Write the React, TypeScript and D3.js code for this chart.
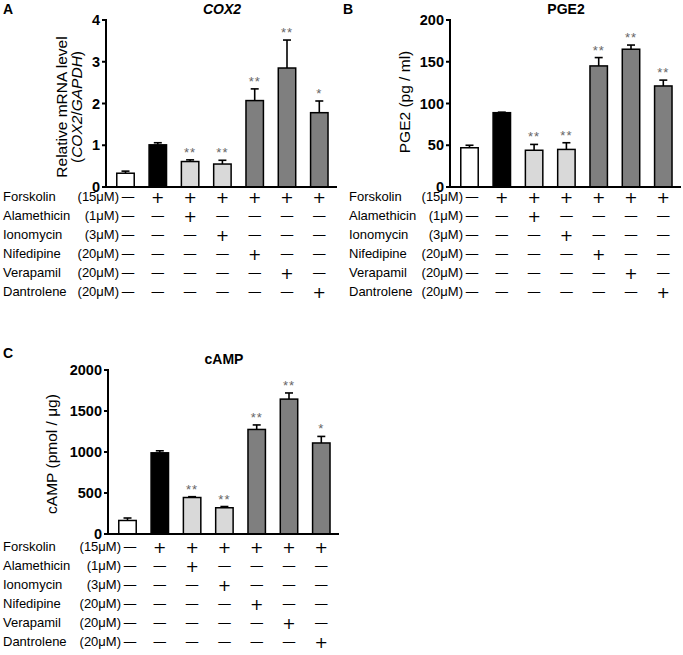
import React from "react";
import * as d3 from "d3";

// ---------- data ----------
const groups = ["Control", "Forskolin", "Forskolin+Alamethicin", "Forskolin+Ionomycin", "Forskolin+Nifedipine", "Forskolin+Verapamil", "Forskolin+Dantrolene"];

const cox2Mean = [0.33, 1.01, 0.61, 0.55, 2.07, 2.85, 1.78];
const cox2Err = [0.05, 0.05, 0.04, 0.09, 0.28, 0.67, 0.28];
const cox2Sig = ["", "", "**", "**", "**", "**", "*"];
const cox2Ticks = [0, 1, 2, 3, 4];

const pge2Mean = [47, 89, 44, 45, 145, 165, 121];
const pge2Err = [3, 0.6, 7, 8, 10, 5, 7];
const pge2Sig = ["", "", "**", "**", "**", "**", "**"];
const pge2Ticks = [0, 50, 100, 150, 200];

const campMean = [165, 990, 445, 320, 1275, 1645, 1110];
const campErr = [30, 25, 10, 15, 55, 75, 80];
const campSig = ["", "", "**", "**", "**", "**", "*"];
const campTicks = [0, 500, 1000, 1500, 2000];

const treatmentNames = ["Forskolin", "Alamethicin", "Ionomycin", "Nifedipine", "Verapamil", "Dantrolene"];
const treatmentConcs = ["(15μM)", "(1μM)", "(3μM)", "(20μM)", "(20μM)", "(20μM)"];
const treatmentSigns = [
  [0, 1, 1, 1, 1, 1, 1],
  [0, 0, 1, 0, 0, 0, 0],
  [0, 0, 0, 1, 0, 0, 0],
  [0, 0, 0, 0, 1, 0, 0],
  [0, 0, 0, 0, 0, 1, 0],
  [0, 0, 0, 0, 0, 0, 1],
];

// ---------- styles ----------
const barFills = ["#ffffff", "#000000", "#d9d9d9", "#d9d9d9", "#7f7f7f", "#7f7f7f", "#7f7f7f"];
const FONT = "'Liberation Sans', Arial, Helvetica, sans-serif";

type PanelProps = {
  letter: string;
  letterX: number;
  letterY: number;
  title: React.ReactNode;
  axisX: number;
  yTop: number;
  yBottom: number;
  yMax: number;
  ticks: number[];
  means: number[];
  errs: number[];
  sigs: string[];
  ylabel: React.ReactNode;
  tableNameX: number;
  tableY0: number;
};

function Panel(p: PanelProps) {
  const axisLen = 231;
  const x = d3
    .scaleBand<string>()
    .domain(groups)
    .range([p.axisX + 3.35, p.axisX + 3.35 + 7 * 32.3])
    .paddingInner(0.46)
    .paddingOuter(0.23);
  const y = d3.scaleLinear().domain([0, p.yMax]).range([p.yBottom, p.yTop]);
  const bw = x.bandwidth();
  const cx = (i: number) => (x(groups[i]) as number) + bw / 2;
  const rowStep = 19;
  const colX = (i: number) => cx(i) + (i === 0 ? 2.5 : 0);

  return (
    <g fontFamily={FONT}>
      <text x={p.letterX} y={p.letterY} fontSize={14} fontWeight="bold">
        {p.letter}
      </text>
      <text x={p.axisX + 116} y={p.yTop - 6} fontSize={14} fontWeight="bold" textAnchor="middle">
        {p.title}
      </text>
      {p.ylabel}
      {/* bars */}
      {p.means.map((m, i) => {
        const top = y(m);
        const etop = y(m + p.errs[i]);
        return (
          <g key={i}>
            <line x1={cx(i)} x2={cx(i)} y1={top} y2={etop} stroke="#000" strokeWidth={1.6} />
            <line x1={cx(i) - 4} x2={cx(i) + 4} y1={etop} y2={etop} stroke="#000" strokeWidth={1.6} />
            <rect
              x={x(groups[i]) as number}
              y={top}
              width={bw}
              height={p.yBottom - top}
              fill={barFills[i]}
              stroke="#000"
              strokeWidth={1.5}
            />
            {p.sigs[i] && (
              <text x={cx(i)} y={etop - 3} fontSize={13} fill="#666" textAnchor="middle" letterSpacing={1}>
                {p.sigs[i]}
              </text>
            )}
          </g>
        );
      })}
      {/* axes */}
      <line x1={p.axisX} x2={p.axisX} y1={p.yTop - 1} y2={p.yBottom} stroke="#000" strokeWidth={2} />
      <line x1={p.axisX - 1} x2={p.axisX + axisLen} y1={p.yBottom} y2={p.yBottom} stroke="#000" strokeWidth={2} />
      {p.ticks.map((t) => (
        <g key={t}>
          <line x1={p.axisX - 4} x2={p.axisX} y1={y(t)} y2={y(t)} stroke="#000" strokeWidth={2} />
          <text x={p.axisX - 6} y={y(t) + 5} fontSize={14.5} fontWeight="bold" textAnchor="end">
            {t}
          </text>
        </g>
      ))}
      {/* treatment table */}
      {treatmentNames.map((name, r) => {
        const by = p.tableY0 + r * rowStep;
        return (
          <g key={name}>
            <text x={p.tableNameX} y={by} fontSize={13}>
              {name}
            </text>
            <text x={colX(0) - 9} y={by} fontSize={13} textAnchor="end">
              {treatmentConcs[r]}
            </text>
            {treatmentSigns[r].map((s, c) =>
              s ? (
                <text
                  key={c}
                  x={colX(c)}
                  y={by + 1.7}
                  fontSize={16}
                  fontFamily="'DejaVu Sans', sans-serif"
                  textAnchor="middle"
                >
                  +
                </text>
              ) : (
                <text key={c} x={colX(c)} y={by} fontSize={12.5} textAnchor="middle">
                  —
                </text>
              )
            )}
          </g>
        );
      })}
    </g>
  );
}

export default function App() {
  return (
    <svg
      width={683}
      height={655}
      style={{ position: "absolute", left: 0, top: 0, background: "#fff" }}
      viewBox="0 0 683 655"
    >
      <rect width={683} height={655} fill="#fff" />
      <Panel
        letter="A"
        letterX={3}
        letterY={14}
        title={<tspan fontStyle="italic">COX2</tspan>}
        axisX={106}
        yTop={20}
        yBottom={187}
        yMax={4}
        ticks={cox2Ticks}
        means={cox2Mean}
        errs={cox2Err}
        sigs={cox2Sig}
        ylabel={
          <g fontFamily={FONT} fontSize={15.5}>
            <text transform="translate(67,107) rotate(-90)" textAnchor="middle">
              Relative mRNA level
            </text>
            <text transform="translate(82,107) rotate(-90)" textAnchor="middle">
              (<tspan fontStyle="italic">COX2</tspan>/<tspan fontStyle="italic">GAPDH</tspan>)
            </text>
          </g>
        }
        tableNameX={3}
        tableY0={201}
      />
      <Panel
        letter="B"
        letterX={343}
        letterY={14}
        title="PGE2"
        axisX={450}
        yTop={20}
        yBottom={187}
        yMax={200}
        ticks={pge2Ticks}
        means={pge2Mean}
        errs={pge2Err}
        sigs={pge2Sig}
        ylabel={
          <text transform="translate(410,102) rotate(-90)" textAnchor="middle" fontFamily={FONT} fontSize={15.5}>
            PGE2 (pg / ml)
          </text>
        }
        tableNameX={349}
        tableY0={201}
      />
      <Panel
        letter="C"
        letterX={3}
        letterY={358}
        title="cAMP"
        axisX={108}
        yTop={370}
        yBottom={534}
        yMax={2000}
        ticks={campTicks}
        means={campMean}
        errs={campErr}
        sigs={campSig}
        ylabel={
          <text transform="translate(57,454) rotate(-90)" textAnchor="middle" fontFamily={FONT} fontSize={15.5}>
            cAMP (pmol / μg)
          </text>
        }
        tableNameX={3}
        tableY0={551}
      />
    </svg>
  );
}
